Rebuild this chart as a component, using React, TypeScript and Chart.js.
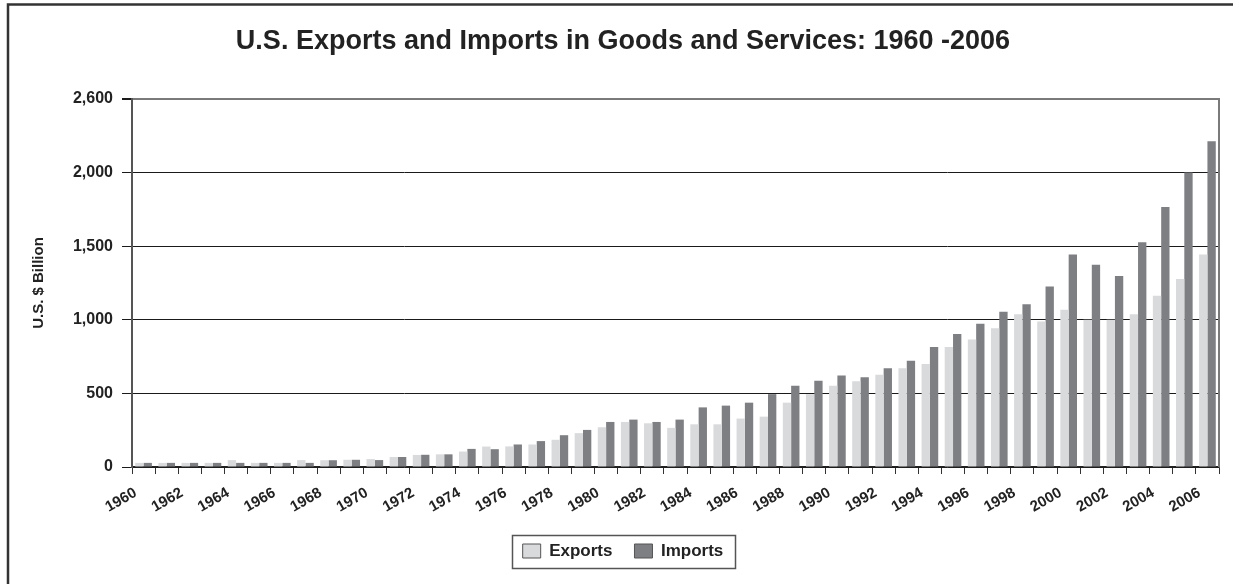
import React, { useEffect, useRef } from 'react';
import { Chart, registerables } from 'chart.js';

Chart.register(...registerables);

const years = [
  '1960', '1961', '1962', '1963', '1964', '1965', '1966', '1967', '1968', '1969',
  '1970', '1971', '1972', '1973', '1974', '1975', '1976', '1977', '1978', '1979',
  '1980', '1981', '1982', '1983', '1984', '1985', '1986', '1987', '1988', '1989',
  '1990', '1991', '1992', '1993', '1994', '1995', '1996', '1997', '1998', '1999',
  '2000', '2001', '2002', '2003', '2004', '2005', '2006',
];

const exportsBn = [
  28, 28, 28, 28, 47, 28, 28, 47, 46, 49,
  54, 68, 82, 86, 105, 139, 140, 153, 185, 230,
  270, 306, 297, 266, 290, 290, 329, 342, 437, 495,
  552, 583, 626, 671, 700, 816, 866, 942, 1037, 988,
  1069, 1001, 1000, 1037, 1164, 1277, 1444,
];

const importsBn = [
  28, 28, 28, 28, 28, 28, 28, 28, 46, 49,
  47, 68, 83, 86, 123, 121, 153, 176, 216, 252,
  306, 322, 306, 322, 405, 417, 437, 495, 552, 586,
  622, 609, 671, 721, 816, 904, 974, 1055, 1105, 1227,
  1444, 1374, 1297, 1526, 1767, 2000, 2213,
];

const yTickValues = [0, 500, 1000, 1500, 2000, 2500];
const yTickLabels = ['0', '500', '1,000', '1,500', '2,000', '2,600'];

const chartTitle = 'U.S. Exports and Imports in Goods and Services: 1960 -2006';
const yAxisTitle = 'U.S. $ Billion';
const seriesNames = ['Exports', 'Imports'];

const FONT = '"Liberation Sans", Arial, Helvetica, sans-serif';
const TEXT = '#222222';

export default function App() {
  const canvasRef = useRef<HTMLCanvasElement | null>(null);

  useEffect(() => {
    const canvas = canvasRef.current;
    if (!canvas) return;

    const decorations = {
      id: 'decorations',
      beforeDraw(chart: any) {
        const { ctx, width, height } = chart;
        ctx.save();
        ctx.fillStyle = '#ffffff';
        ctx.fillRect(0, 0, width, height);
        ctx.restore();
      },
      afterDraw(chart: any) {
        const { ctx, chartArea } = chart;
        ctx.save();
        // right border of the plot area
        ctx.strokeStyle = '#7a7a7a';
        ctx.lineWidth = 2;
        ctx.beginPath();
        ctx.moveTo(chartArea.right, chartArea.top - 1);
        ctx.lineTo(chartArea.right, chartArea.bottom);
        ctx.stroke();

        // legend frame
        const boxes = chart.legend && chart.legend.legendHitBoxes;
        if (boxes && boxes.length) {
          let l = Infinity, r = -Infinity, t = Infinity, b = -Infinity;
          boxes.forEach((h: any) => {
            l = Math.min(l, h.left);
            r = Math.max(r, h.left + h.width);
            t = Math.min(t, h.top);
            b = Math.max(b, h.top + h.height);
          });
          const cy = (t + b) / 2;
          ctx.strokeStyle = '#555555';
          ctx.lineWidth = 1.5;
          ctx.strokeRect(Math.round(l - 11) + 0.5, Math.round(cy - 16.5) + 0.5, Math.round(r - l + 22), 33);
        }

        // outer frame
        ctx.strokeStyle = '#333333';
        ctx.lineWidth = 2.5;
        ctx.strokeRect(8, 4.5, 1240, 600);
        ctx.restore();
      },
    };

    const chart = new Chart(canvas, {
      type: 'bar',
      data: {
        labels: years,
        datasets: [
          {
            label: seriesNames[0],
            data: exportsBn,
            backgroundColor: '#d9dadc',
            borderWidth: 0,
            categoryPercentage: 0.72,
            barPercentage: 1.0,
          },
          {
            label: seriesNames[1],
            data: importsBn,
            backgroundColor: '#7e7f83',
            borderWidth: 0,
            categoryPercentage: 0.72,
            barPercentage: 1.0,
          },
        ],
      },
      options: {
        responsive: false,
        animation: false,
        events: [],
        layout: { padding: { left: 27, right: 14, top: 0, bottom: 14.5 } },
        plugins: {
          tooltip: { enabled: false },
          title: {
            display: true,
            text: chartTitle,
            color: TEXT,
            font: { family: FONT, size: 27, weight: 'bold' },
            padding: { top: 25.8, bottom: 40.8 },
          },
          legend: {
            display: true,
            position: 'bottom',
            labels: {
              color: TEXT,
              font: { family: FONT, size: 17, weight: 'bold' },
              boxWidth: 18,
              boxHeight: 14,
              padding: 22,
              generateLabels(chart: any) {
                const items = Chart.defaults.plugins.legend.labels.generateLabels(chart);
                return items.map((it: any) => ({ ...it, lineWidth: 1, strokeStyle: '#555555' }));
              },
            },
          },
        },
        scales: {
          x: {
            offset: true,
            afterFit(scale: any) {
              scale.height = 53.5;
            },
            grid: {
              display: true,
              offset: true,
              drawOnChartArea: false,
              drawTicks: true,
              tickLength: 7,
              color: '#333333',
              tickColor: '#333333',
            },
            border: { display: true, color: '#222222', width: 1.5 },
            ticks: {
              autoSkip: false,
              minRotation: 30,
              maxRotation: 30,
              padding: 10,
              labelOffset: -8,
              color: TEXT,
              font: { family: FONT, size: 15, weight: 'bold' },
              callback(_v: any, i: number) {
                return i % 2 === 0 ? years[i] : '';
              },
            },
          },
          y: {
            min: 0,
            max: 2500,
            afterFit(scale: any) {
              scale.width = 105;
            },
            afterBuildTicks(scale: any) {
              scale.ticks = yTickValues.map((v) => ({ value: v }));
            },
            grid: {
              drawTicks: true,
              tickLength: 10,
              color: (c: any) => (c.tick && c.tick.value === 2500 ? '#7a7a7a' : '#1a1a1a'),
              lineWidth: (c: any) => (c.tick && c.tick.value === 2500 ? 2 : 1),
              tickColor: '#1a1a1a',
            },
            border: { display: true, color: '#555555', width: 2 },
            ticks: {
              padding: 9,
              color: TEXT,
              font: { family: FONT, size: 16, weight: 'bold' },
              callback(v: any) {
                const idx = yTickValues.indexOf(Number(v));
                return idx >= 0 ? yTickLabels[idx] : '';
              },
            },
            title: {
              display: true,
              text: yAxisTitle,
              color: TEXT,
              font: { family: FONT, size: 15, weight: 'bold' },
              padding: { top: 3, bottom: 0 },
            },
          },
        },
      },
      plugins: [decorations],
    } as any);

    return () => chart.destroy();
  }, []);

  return (
    <div style={{ position: 'absolute', left: 0, top: 0, width: 1233, height: 584, overflow: 'hidden' }}>
      <canvas ref={canvasRef} width={1233} height={584} style={{ display: 'block' }} />
    </div>
  );
}
